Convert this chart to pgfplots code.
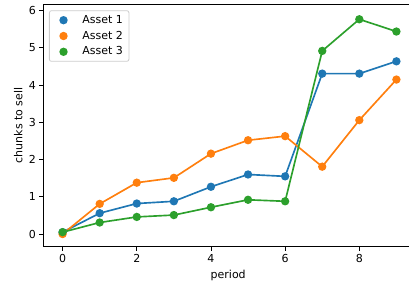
\documentclass[border=0pt]{standalone}
\usepackage{pgfplots}
\pgfplotsset{compat=1.18}
\usepackage{fontspec}
\setmainfont{DejaVu Sans}
\definecolor{c1}{HTML}{1F77B4}
\definecolor{c2}{HTML}{FF7F0E}
\definecolor{c3}{HTML}{2CA02C}
\newcommand{\fs}{\fontsize{11}{13}\selectfont}
\begin{document}
\begin{tikzpicture}
\begin{axis}[
  scale only axis, width=369.8pt, height=242.7pt,
  xmin=-0.52, xmax=9.45, ymin=-0.34, ymax=6.18,
  xtick={0,2,4,6,8}, ytick={0,1,2,3,4,5,6},
  xtick pos=lower, ytick pos=left,
  tick align=outside, major tick length=4pt,
  tick style={black, line width=0.9pt},
  axis line style={line width=0.9pt},
  tick label style={font=\fs},
  /pgf/number format/assume math mode=true,
  xlabel={period}, ylabel={chunks to sell},
  label style={font=\fs},
  xlabel style={at={(axis description cs:0.5,-0.1302)}, anchor=base},
  ylabel style={at={(axis description cs:-0.0568,0.5)}, anchor=base},
  legend cell align=left,
  legend image code/.code={\path (0pt,0pt) (24pt,0pt); \draw[#1, only marks] plot coordinates {(9.3pt,0pt)};},
  legend style={at={(axis description cs:0.0154,0.974)}, anchor=north west,
    draw=black!20, line width=0.8pt, rounded corners=2pt, fill=white,
    font=\fs, inner xsep=4pt, inner ysep=2.5pt, row sep=1.8pt, column sep=1.3pt,
    nodes={inner sep=2pt, text height=8pt, text depth=2pt}},
  every axis plot/.append style={line width=1.65pt, mark=*, mark size=3.3pt},
]
\addplot[c1, mark options={fill=c1, draw=c1}] coordinates {
(0,0.05) (1,0.56) (2,0.82) (3,0.88) (4,1.27) (5,1.60) (6,1.55) (7,4.31) (8,4.31) (9,4.64)};
\addlegendentry{Asset 1}
\addplot[c2, mark options={fill=c2, draw=c2}] coordinates {
(0,0.0) (1,0.81) (2,1.38) (3,1.51) (4,2.16) (5,2.52) (6,2.63) (7,1.81) (8,3.06) (9,4.15)};
\addlegendentry{Asset 2}
\addplot[c3, mark options={fill=c3, draw=c3}] coordinates {
(0,0.05) (1,0.31) (2,0.46) (3,0.51) (4,0.72) (5,0.92) (6,0.88) (7,4.92) (8,5.77) (9,5.44)};
\addlegendentry{Asset 3}
\end{axis}
\pgfresetboundingbox
\path[use as bounding box] (current axis.south west) ++(-43.3pt,-37.3pt) rectangle ++(409pt,284pt);
\end{tikzpicture}
\end{document}
